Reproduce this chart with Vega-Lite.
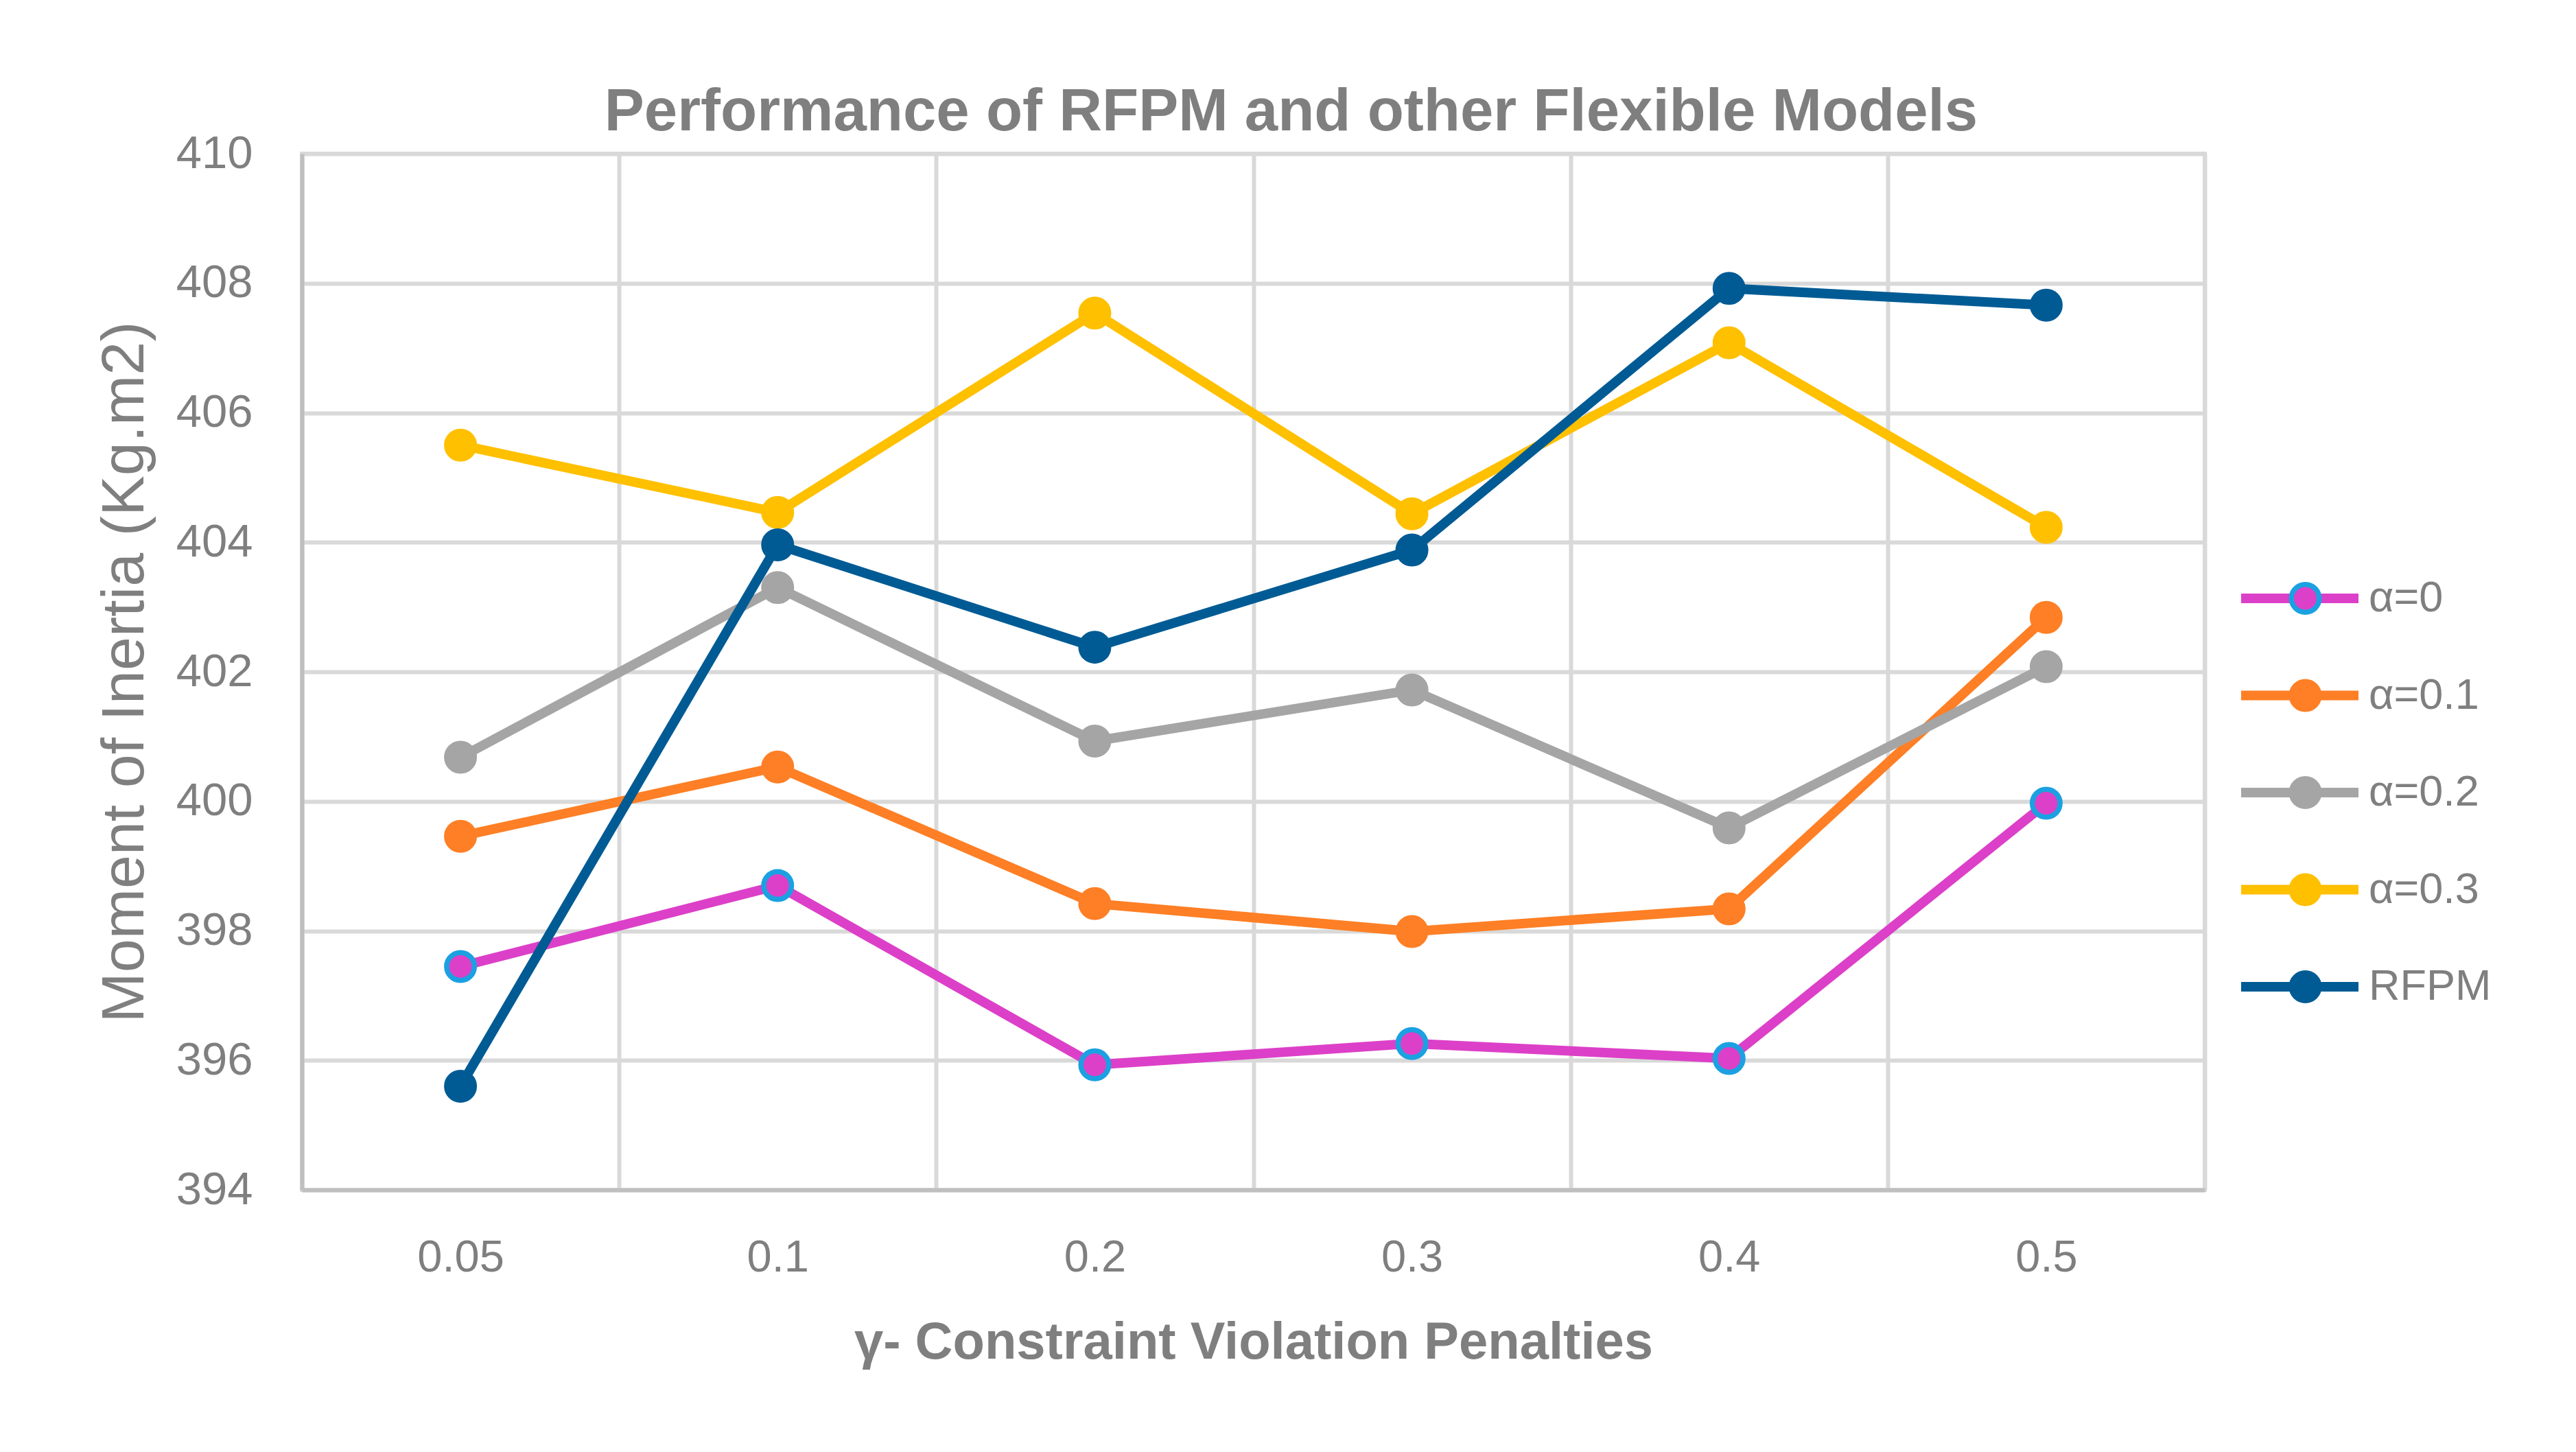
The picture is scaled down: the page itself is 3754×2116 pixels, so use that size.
{
  "$schema": "https://vega.github.io/schema/vega-lite/v6.json",
  "width": 2773,
  "height": 1510,
  "autosize": {"type": "none"},
  "padding": {"left": 440, "top": 224, "right": 541, "bottom": 382},
  "background": "white",
  "title": {
    "text": "Performance of RFPM and other Flexible Models",
    "font": "Liberation Sans",
    "fontWeight": "bold",
    "fontSize": 87,
    "color": "#7f7f7f",
    "anchor": "middle",
    "dx": 55,
    "offset": -87,
    "baseline": "alphabetic"
  },
  "config": {
    "view": {"stroke": "#d9d9d9", "strokeWidth": 6}
  },
  "data": {
    "values": [
      {"gamma": "0.05", "series": "α=0", "value": 397.45},
      {"gamma": "0.1", "series": "α=0", "value": 398.70},
      {"gamma": "0.2", "series": "α=0", "value": 395.93},
      {"gamma": "0.3", "series": "α=0", "value": 396.26},
      {"gamma": "0.4", "series": "α=0", "value": 396.03},
      {"gamma": "0.5", "series": "α=0", "value": 399.97},
      {"gamma": "0.05", "series": "α=0.1", "value": 399.46},
      {"gamma": "0.1", "series": "α=0.1", "value": 400.53},
      {"gamma": "0.2", "series": "α=0.1", "value": 398.42},
      {"gamma": "0.3", "series": "α=0.1", "value": 397.99},
      {"gamma": "0.4", "series": "α=0.1", "value": 398.34},
      {"gamma": "0.5", "series": "α=0.1", "value": 402.84},
      {"gamma": "0.05", "series": "α=0.2", "value": 400.68},
      {"gamma": "0.1", "series": "α=0.2", "value": 403.30},
      {"gamma": "0.2", "series": "α=0.2", "value": 400.93},
      {"gamma": "0.3", "series": "α=0.2", "value": 401.72},
      {"gamma": "0.4", "series": "α=0.2", "value": 399.59},
      {"gamma": "0.5", "series": "α=0.2", "value": 402.08},
      {"gamma": "0.05", "series": "α=0.3", "value": 405.50},
      {"gamma": "0.1", "series": "α=0.3", "value": 404.46},
      {"gamma": "0.2", "series": "α=0.3", "value": 407.54},
      {"gamma": "0.3", "series": "α=0.3", "value": 404.44},
      {"gamma": "0.4", "series": "α=0.3", "value": 407.08},
      {"gamma": "0.5", "series": "α=0.3", "value": 404.23},
      {"gamma": "0.05", "series": "RFPM", "value": 395.60},
      {"gamma": "0.1", "series": "RFPM", "value": 403.96},
      {"gamma": "0.2", "series": "RFPM", "value": 402.38},
      {"gamma": "0.3", "series": "RFPM", "value": 403.88},
      {"gamma": "0.4", "series": "RFPM", "value": 407.92},
      {"gamma": "0.5", "series": "RFPM", "value": 407.66}
    ]
  },
  "encoding": {
    "x": {
      "field": "gamma",
      "type": "ordinal",
      "sort": null,
      "bandPosition": 0.5,
      "scale": {"type": "band", "paddingInner": 0, "paddingOuter": 0},
      "axis": {
        "title": "γ- Constraint Violation Penalties",
        "titleFont": "Liberation Sans",
        "titleFontSize": 76,
        "titleFontWeight": "bold",
        "titleColor": "#7f7f7f",
        "titlePadding": 54,
        "labelFont": "Liberation Sans",
        "labelFontSize": 65,
        "labelColor": "#7f7f7f",
        "labelPadding": 67,
        "labelAngle": 0,
        "ticks": false,
        "tickSize": 0,
        "tickBand": "extent",
        "grid": true,
        "gridColor": "#d9d9d9",
        "gridWidth": 6,
        "domainColor": "#bfbfbf",
        "domainWidth": 6
      }
    },
    "y": {
      "field": "value",
      "type": "quantitative",
      "scale": {"domain": [394, 410], "zero": false, "nice": false},
      "axis": {
        "title": "Moment of Inertia (Kg.m2)",
        "titleFont": "Liberation Sans",
        "titleFontSize": 88,
        "titleFontWeight": "normal",
        "titleColor": "#7f7f7f",
        "titlePadding": 30,
        "labelFont": "Liberation Sans",
        "labelFontSize": 67,
        "labelColor": "#7f7f7f",
        "labelPadding": 72,
        "ticks": false,
        "tickSize": 0,
        "values": [394, 396, 398, 400, 402, 404, 406, 408, 410],
        "grid": true,
        "gridColor": "#d9d9d9",
        "gridWidth": 6,
        "domainColor": "#bfbfbf",
        "domainWidth": 6
      }
    }
  },
  "layer": [
    {
      "mark": {"type": "line", "strokeWidth": 14, "strokeCap": "round", "strokeJoin": "round"},
      "encoding": {
        "stroke": {
          "field": "series",
          "type": "nominal",
          "sort": null,
          "scale": {
            "domain": ["α=0", "α=0.1", "α=0.2", "α=0.3", "RFPM"],
            "range": ["#dc40c8", "#fe7f25", "#a5a5a5", "#ffc000", "#005b94"]
          },
          "legend": {
            "orient": "none",
            "legendX": 2819,
            "legendY": 617,
            "title": null,
            "padding": 0,
            "symbolType": "stroke",
            "symbolSize": 29241,
            "symbolStrokeWidth": 14,
            "clipHeight": 62,
            "rowPadding": 78.5,
            "labelFont": "Liberation Sans",
            "labelFontSize": 63,
            "labelColor": "#7f7f7f",
            "labelOffset": 8,
            "labelLimit": 0
          }
        }
      }
    },
    {
      "mark": {"type": "point", "shape": "circle", "filled": true, "size": 1640, "strokeWidth": 7.5, "opacity": 1},
      "encoding": {
        "fill": {
          "field": "series",
          "type": "nominal",
          "sort": null,
          "scale": {
            "domain": ["α=0", "α=0.1", "α=0.2", "α=0.3", "RFPM"],
            "range": ["#dc40c8", "#fe7f25", "#a5a5a5", "#ffc000", "#005b94"]
          },
          "legend": {
            "orient": "none",
            "legendX": 2888,
            "legendY": 617,
            "title": null,
            "padding": 0,
            "symbolType": "circle",
            "symbolSize": 1640,
            "symbolStrokeWidth": 7.5,
            "clipHeight": 62,
            "rowPadding": 78.5,
            "labelFont": "Liberation Sans",
            "labelFontSize": 63,
            "labelExpr": "''"
          }
        },
        "stroke": {
          "field": "series",
          "type": "nominal",
          "sort": null,
          "scale": {
            "domain": ["α=0", "α=0.1", "α=0.2", "α=0.3", "RFPM"],
            "range": ["#1ba1e2", "#fe7f25", "#a5a5a5", "#ffc000", "#005b94"]
          },
          "legend": {
            "orient": "none",
            "legendX": 2888,
            "legendY": 617,
            "title": null,
            "padding": 0,
            "symbolType": "circle",
            "symbolSize": 1640,
            "symbolStrokeWidth": 7.5,
            "clipHeight": 62,
            "rowPadding": 78.5,
            "labelFont": "Liberation Sans",
            "labelFontSize": 63,
            "labelExpr": "''"
          }
        }
      }
    }
  ],
  "resolve": {
    "scale": {"stroke": "independent", "fill": "independent"},
    "legend": {"stroke": "independent", "fill": "independent"}
  }
}
